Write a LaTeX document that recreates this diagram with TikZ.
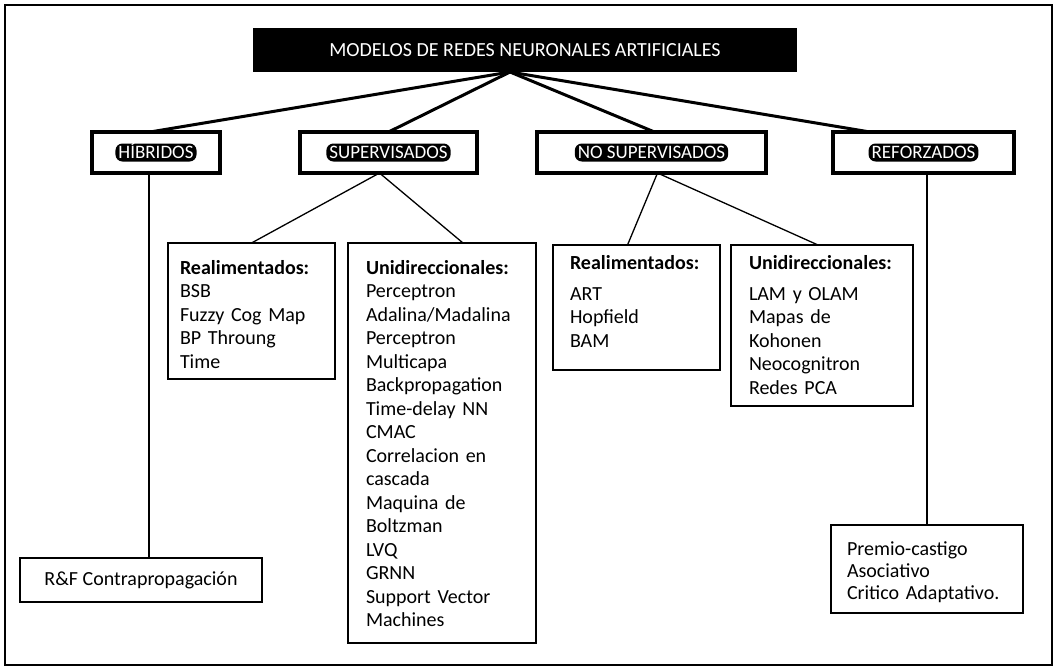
\documentclass[tikz,border=0pt]{standalone}
\usepackage{fontspec}
\setmainfont{Carlito}
\begin{document}
\begin{tikzpicture}[x=1pt,y=-1pt,
  every node/.style={inner sep=0pt, outer sep=0pt},
  titlebox/.style={fill=black, text=white, minimum width=544pt, minimum height=44pt,
    font=\fontsize{20}{22}\selectfont},
  catbox/.style={draw, line width=3.2pt, fill=white, minimum height=41pt},
  pill/.style={fill=black, text=white, rounded corners=7pt, inner xsep=3pt, inner ysep=2pt,
    text height=13pt, text depth=1pt, font=\fontsize{19}{21}\selectfont},
  listbox/.style={draw, line width=1.5pt, fill=white, align=left, anchor=north west,
    inner ysep=0pt, font=\fontsize{20}{23.5}\selectfont},
  trunk/.style={line width=3pt},
  branch/.style={line width=1.3pt}]
\useasboundingbox (0,0) rectangle (1056,670);
\draw[line width=1.2pt] (5,5) rectangle (1052,665);

% title
\node[titlebox] (title) at (525,50) {MODELOS DE REDES NEURONALES ARTIFICIALES};
\coordinate (apex) at ([xshift=-15pt]title.south);

% categories
\node[catbox, minimum width=128pt] (hib) at (156,152.5) {};
\node[catbox, minimum width=177pt] (sup) at (388.5,152.5) {};
\node[catbox, minimum width=229pt] (nos) at (651.5,152.5) {};
\node[catbox, minimum width=181pt] (ref) at (923.5,152.5) {};
\node[pill] (hibl) at (hib.center) {HÍBRIDOS};
\node[pill] (supl) at (sup.center) {SUPERVISADOS};
\node[pill] (nosl) at (nos.center) {NO SUPERVISADOS};
\node[pill] (refl) at (ref.center) {REFORZADOS};

% lists
\node[listbox, inner xsep=12pt, text width=143pt, text height=31pt, text depth=105pt] (sr) at (168,243)
  {\textbf{Realimentados:}\\ BSB\\ Fuzzy Cog Map\\ BP Throung\\ Time};
\node[listbox, inner xsep=18pt, text width=152pt, text height=31pt, text depth=369pt] (su) at (348,243)
  {\textbf{Unidireccionales:}\\ Perceptron\\ Adalina/Madalina\\ Perceptron\\ Multicapa\\
   Backpropagation\\ Time-delay NN\\ CMAC\\ Correlacion en\\ cascada\\ Maquina de\\
   Boltzman\\ LVQ\\ GRNN\\ Support Vector\\ Machines};
\node[listbox, inner xsep=17pt, text width=133pt, text height=24pt, text depth=101pt] (nr) at (553,245)
  {\textbf{Realimentados:}\\[7.5pt] ART\\ Hopfield\\ BAM};
\node[listbox, inner xsep=18pt, text width=146pt, text height=24pt, text depth=137pt] (nu) at (731,245)
  {\textbf{Unidireccionales:}\\[7.5pt] LAM y OLAM\\ Mapas de\\ Kohonen\\ Neocognitron\\ Redes PCA};
\node[listbox, inner xsep=16pt, text width=160pt, text height=30pt, text depth=58pt,
  font=\fontsize{20}{22}\selectfont] (pr) at (831,525)
  {Premio-castigo\\ Asociativo\\ Critico Adaptativo.};
\node[draw, line width=1.5pt, fill=white, minimum width=242pt, minimum height=44pt,
  font=\fontsize{20}{22}\selectfont] (rf) at (141,580) {R\&F Contrapropagación};

% connectors
\draw[trunk] (apex) -- ([xshift=-6pt]hib.north);
\draw[trunk] (apex) -- (sup.north);
\draw[trunk] (apex) -- ([xshift=3pt]nos.north);
\draw[trunk] (apex) -- ([xshift=37pt]ref.north west);

\draw[branch] ([xshift=-9pt]sup.south) -- (sr.north);
\draw[branch] ([xshift=-9pt]sup.south) -- ([xshift=21pt]su.north);
\draw[branch] ([xshift=6pt]nos.south) -- ([xshift=-9pt]nr.north);
\draw[branch] ([xshift=6pt]nos.south) -- ([xshift=-4pt]nu.north);
\draw[branch] ([xshift=-7pt]hib.south) -- ([xshift=-7pt]hib.south |- rf.north);
\draw[branch] (pr.north |- ref.south) -- (pr.north);
\end{tikzpicture}
\end{document}
